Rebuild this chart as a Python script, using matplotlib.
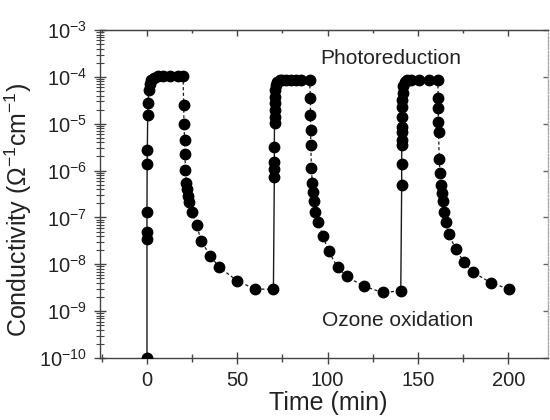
import matplotlib
matplotlib.use('Agg')
import matplotlib.pyplot as plt
import numpy as np
from matplotlib.ticker import LogLocator, MultipleLocator, NullFormatter, FixedLocator

plt.rcParams['font.family'] = ['Liberation Sans', 'DejaVu Sans']
plt.rcParams['mathtext.fontset'] = 'custom'
plt.rcParams['mathtext.rm'] = 'Liberation Sans'
plt.rcParams['mathtext.default'] = 'regular'

# ---- data (time in min, conductivity in Ohm^-1 cm^-1) ----
t_rise1 = [0, 0, 0, 0, 0.1, 0.2, 0.4, 0.6, 1.0, 1.5, 2.5, 4, 6, 9, 13, 17, 20]
s_rise1 = [1e-10, 3.4e-8, 5.0e-8, 1.3e-7, 1.35e-6, 2.7e-6, 1.55e-5, 2.8e-5, 5.2e-5,
           7.1e-5, 8.5e-5, 9.5e-5, 1.02e-4, 1.05e-4, 1.05e-4, 1.05e-4, 1.05e-4]
t_decay1 = [20.3, 20.5, 20.8, 21.0, 21.3, 21.8, 22.3, 22.8, 23.5, 25, 27.5, 30, 35,
            40, 50, 60, 70]
s_decay1 = [2.5e-5, 1.0e-5, 4.6e-6, 2.3e-6, 1.05e-6, 5.5e-7, 4.0e-7, 2.8e-7, 2.1e-7,
            1.3e-7, 6.8e-8, 3.2e-8, 1.5e-8, 8.7e-9, 4.4e-9, 2.95e-9, 2.95e-9]

t_rise2 = [70.5, 70.5, 70.5, 70.5, 70.6, 70.6, 70.7, 70.8, 70.9, 71.1, 71.5, 72.2,
           73.5, 75, 77, 80, 82.5, 85, 90]
s_rise2 = [7.4e-7, 1.1e-6, 1.5e-6, 3.2e-6, 1.05e-5, 1.4e-5, 2.0e-5, 2.8e-5, 3.7e-5,
           5.2e-5, 6.8e-5, 7.9e-5, 8.5e-5, 8.7e-5, 8.7e-5, 8.7e-5, 8.7e-5, 8.7e-5, 8.7e-5]
t_decay2 = [90.5, 90.5, 90.6, 90.7, 91, 91.5, 92, 92.6, 93.2, 94.5, 97.5, 100.5,
            105.5, 110.5, 120, 130.5, 140.5]
s_decay2 = [3.5e-5, 1.55e-5, 7.4e-6, 3.5e-6, 1.15e-6, 5.5e-7, 3.5e-7, 2.2e-7, 1.3e-7,
            8.1e-8, 4.0e-8, 1.9e-8, 8.7e-9, 5.5e-9, 3.4e-9, 2.5e-9, 2.7e-9]

t_rise3 = [141, 141, 141, 141, 141.1, 141.1, 141.2, 141.3, 141.4, 141.6, 142, 142.7,
           144, 146, 150.5, 156, 161]
s_rise3 = [5.0e-7, 1.35e-6, 3.5e-6, 4.6e-6, 6.5e-6, 8.7e-6, 1.4e-5, 2.3e-5, 3.2e-5,
           4.6e-5, 6.3e-5, 7.8e-5, 8.5e-5, 8.7e-5, 8.7e-5, 8.7e-5, 8.7e-5]
t_decay3 = [161.2, 161.2, 161.3, 161.4, 161.8, 162.2, 162.7, 163.2, 163.8, 164.4,
            165.5, 167, 171, 175.5, 180.5, 190.5, 200.5]
s_decay3 = [3.5e-5, 2.2e-5, 1.1e-5, 6.8e-6, 1.8e-6, 8.7e-7, 5.0e-7, 3.4e-7, 2.2e-7,
            1.3e-7, 8.1e-8, 4.4e-8, 2.1e-8, 1.1e-8, 6.8e-9, 4.0e-9, 2.95e-9]

x_ticks = [0, 50, 100, 150, 200]
label_photo = 'Photoreduction'
label_ozone = 'Ozone oxidation'

# ---- figure ----
fig = plt.figure(figsize=(5.5, 4.2), dpi=100)
ax = fig.add_axes([100/550, 62/420, 448/550, 328/420])
ax.set_yscale('log')
ax.set_xlim(-26, 222)
ax.set_ylim(1e-10, 1e-3)

ink = '#1a1a1a'
rises = [(t_rise1, s_rise1), (t_rise2, s_rise2), (t_rise3, s_rise3)]
decays = [(t_decay1, s_decay1), (t_decay2, s_decay2), (t_decay3, s_decay3)]
prev = None
for (tr, sr), (td, sd) in zip(rises, decays):
    tr2 = ([prev[0]] if prev else []) + list(tr)
    sr2 = ([prev[1]] if prev else []) + list(sr)
    ax.plot(tr2, sr2, '-', color=ink, lw=1.0, zorder=2)
    ax.plot([tr[-1]] + list(td), [sr[-1]] + list(sd), color=ink, lw=0.9,
            linestyle=(0, (2.5, 2)), zorder=2)
    ax.plot(tr, sr, 'o', color='black', ms=7.5, ls='none', zorder=3)
    ax.plot(td, sd, 'o', color='black', ms=7.5, ls='none', zorder=3)
    prev = (td[-1], sd[-1])

# spines
for sp in ['left', 'bottom', 'top']:
    ax.spines[sp].set_color('#444444')
    ax.spines[sp].set_linewidth(1.0)
ax.spines['right'].set_color('#aaaaaa')
ax.spines['right'].set_linestyle(':')
ax.spines['right'].set_linewidth(1.0)

# ticks main axes (bottom/left, inout)
ax.xaxis.set_major_locator(FixedLocator(x_ticks))
ax.xaxis.set_minor_locator(MultipleLocator(25))
ax.yaxis.set_major_locator(LogLocator(base=10, numticks=20))
ax.yaxis.set_minor_locator(LogLocator(base=10, subs=np.arange(2, 10), numticks=20))
ax.yaxis.set_minor_formatter(NullFormatter())
ax.tick_params(axis='both', which='both', direction='inout', color='#444444',
               labelcolor='#222222', labelsize=14.5, top=False, right=False)
ax.tick_params(axis='x', which='major', length=9, width=1.0, pad=5)
ax.tick_params(axis='x', which='minor', length=5.5, width=1.0)
ax.tick_params(axis='y', which='major', length=9, width=1.0, pad=5)
ax.tick_params(axis='y', which='minor', length=6, width=0.8)

# top axis ticks (in)
top = ax.secondary_xaxis('top')
top.xaxis.set_major_locator(FixedLocator(x_ticks))
top.xaxis.set_minor_locator(MultipleLocator(25))
top.tick_params(which='both', direction='in', labeltop=False, color='#444444')
top.tick_params(which='major', length=4.5, width=1.0)
top.tick_params(which='minor', length=2.5, width=1.0)
top.spines['top'].set_color('#444444')

# right axis ticks (in, light)
right = ax.secondary_yaxis('right')
right.yaxis.set_major_locator(LogLocator(base=10, numticks=20))
right.yaxis.set_minor_locator(plt.NullLocator())
right.tick_params(which='major', direction='in', length=3.5, width=1.0,
                  labelright=False, color='#666666')
right.spines['right'].set_color('#aaaaaa')
right.spines['right'].set_linestyle(':')

ax.set_xlabel('Time (min)', fontsize=18, color='#222222')
ax.xaxis.set_label_coords((328 - 100) / 448, -(391 - 358) / 328)
ax.set_ylabel('Conductivity (\u03a9$^{-1}$cm$^{-1}$)', fontsize=18,
              color='#222222')
ax.yaxis.set_label_coords(-(100 - 34) / 448, (358 - 210) / 328)

ax.text(135, 2.5e-4, label_photo, fontsize=15, color='#222222',
        ha='center', va='center')
ax.text(139, 6.2e-10, label_ozone, fontsize=15, color='#222222',
        ha='center', va='center')

fig.savefig('out.png', dpi=100)
